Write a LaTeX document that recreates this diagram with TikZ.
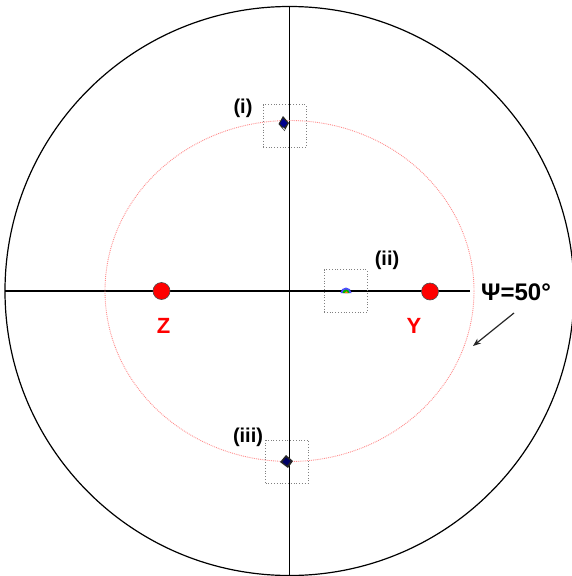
\documentclass[tikz,border=0pt]{standalone}
\usepackage{fontspec}
\setmainfont{Liberation Sans}
\usetikzlibrary{arrows.meta}
\begin{document}
\begin{tikzpicture}[x=1pt,y=-1pt,
  axis/.style={line width=1.3pt,black},
  dotbox/.style={draw=gray,dotted,line width=0.8pt,minimum width=43pt,minimum height=43pt,inner sep=0pt},
  reddot/.style={circle,fill=red,draw=black!70,line width=0.6pt,minimum size=17pt,inner sep=0pt},
  redlab/.style={text=red,font=\bfseries\fontsize{22}{22}\selectfont},
  lab/.style={font=\bfseries\fontsize{20}{20}\selectfont}]
\useasboundingbox (0,0) rectangle (572,576);
\coordinate (c) at (289.5,291);
\draw[line width=1.2pt] (c) circle[radius=284.5];
\coordinate (l) at (5,291);
\coordinate (r) at (470,291);
\coordinate (t) at (289.5,6.5);
\coordinate (b) at (289.5,575.5);
\draw[axis] (l) -- (r);
\draw[axis] (t) -- (b);
\draw[red!45,densely dotted,line width=0.9pt] (c) ellipse[x radius=184.5,y radius=170.5];
\node[reddot] (Z) at (161.5,291) {};
\node[reddot] (Y) at (430,291.5) {};
\node[redlab] (Zl) at (163.5,326) {Z};
\node[redlab] (Yl) at (414,326) {Y};
\node[dotbox] (bi) at (284.5,126) {};
\node[dotbox] (bii) at (345.5,291) {};
\node[dotbox] (biii) at (287,461.5) {};
\node[lab] (li) at (243,108) {(i)};
\node[lab] (lii) at (387,260) {(ii)};
\node[lab] (liii) at (248,437) {(iii)};
% markers
\fill[black!85] (283,116) -- (289,123) -- (284.5,131) -- (278.5,124) -- cycle;
\fill[blue!55!black] (283,118.5) -- (287.5,123) -- (284,127.5) -- (280,123.5) -- cycle;
\fill[white] (282.5,127) -- (285,129) -- (284,130) -- cycle;
\fill[blue!70] (340.5,293) arc[start angle=180,end angle=360,radius=5.5];
\fill[green!70!black] (342.5,293) arc[start angle=180,end angle=360,radius=3.5];
\fill[orange] (344.5,293) arc[start angle=180,end angle=360,radius=1.8];
\fill[black!85] (280,462) -- (286,455) -- (293,461) -- (288,468) -- cycle;
\fill[blue!40!black] (282.5,462) -- (286,457.5) -- (290.5,461) -- (287,465.5) -- cycle;
\node[font=\bfseries\fontsize{24}{24}\selectfont,anchor=west,inner sep=0pt] (psi) at (481,292) {Ψ=50°};
\coordinate (a1) at (514,313);
\coordinate (a2) at (473,346);
\draw[-{Stealth[length=8pt,width=6pt]},line width=1.2pt,black!85] (a1) -- (a2);
\end{tikzpicture}
\end{document}
